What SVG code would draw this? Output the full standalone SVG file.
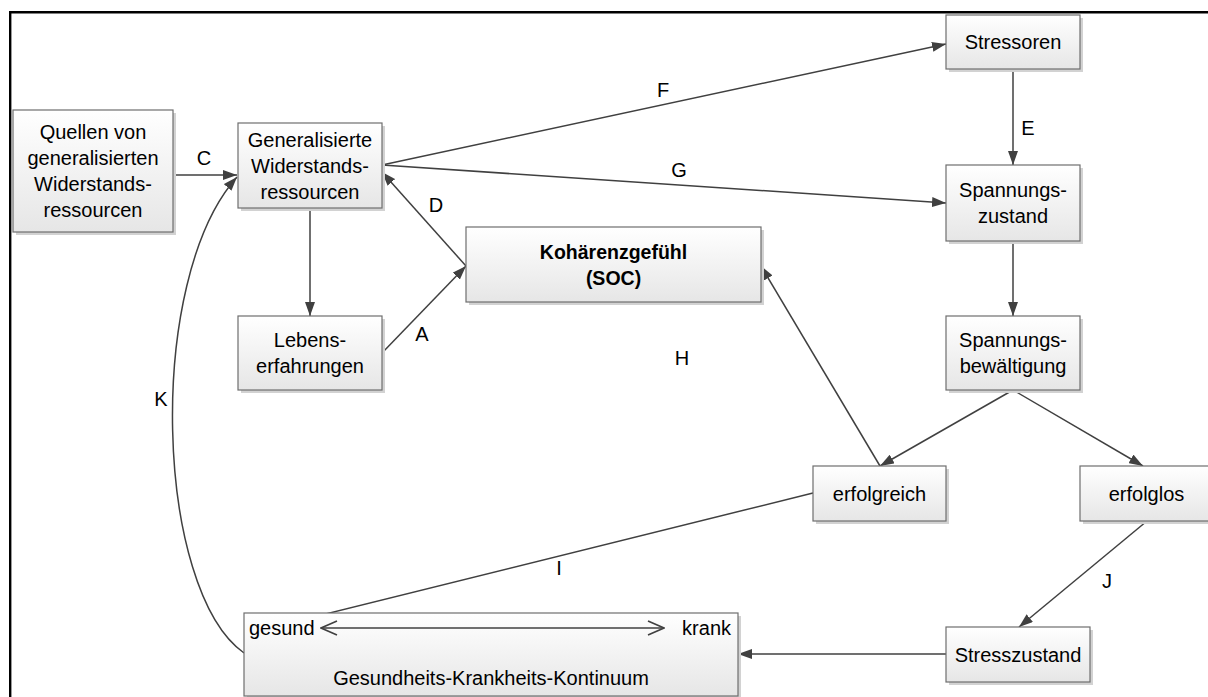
<svg xmlns="http://www.w3.org/2000/svg" width="1208" height="697" viewBox="0 0 1208 697">
  <defs>
    <linearGradient id="boxFill" x1="0" y1="0" x2="0" y2="1">
      <stop offset="0" stop-color="#ffffff"/>
      <stop offset="1" stop-color="#e6e6e6"/>
    </linearGradient>
    <marker id="arr" viewBox="0 0 14 10" refX="14" refY="5" markerWidth="14" markerHeight="10" orient="auto" markerUnits="userSpaceOnUse">
      <path d="M0,0 L14,5 L0,10 z" fill="#404040"/>
    </marker>
    <marker id="open" viewBox="0 0 18 16" refX="17" refY="8" markerWidth="18" markerHeight="16" orient="auto-start-reverse" markerUnits="userSpaceOnUse">
      <path d="M1,1 L17,8 L1,15" fill="none" stroke="#404040" stroke-width="1.6"/>
    </marker>
  </defs>
  <style>
    .shadow { fill: #d2d2d2; }
    .box { fill: url(#boxFill); stroke: #6e6e6e; stroke-width: 1.2; }
    .t { font-family: "Liberation Sans", Arial, sans-serif; font-size: 20px; fill: #000; text-anchor: middle; }
    .b { font-weight: bold; font-size: 19.5px; }
    .l { text-anchor: start; }
    .e { text-anchor: end; }
    .c { fill: none; stroke: #404040; stroke-width: 1.5; }
    .a { marker-end: url(#arr); }
  </style>

  <!-- page frame -->
  <path d="M10.2,697 V12.2 H1208" fill="none" stroke="#000" stroke-width="2.4"/>

  <!-- connectors -->
  <g id="connectors">
    <path class="c a" d="M173,175 H237"/>
    <path class="c a" d="M244,653 C155,590 145,280 237,177"/>
    <path class="c a" d="M310,208 V316"/>
    <path class="c a" d="M382,353 L466,266"/>
    <path class="c a" d="M466,266 L382,172"/>
    <path class="c a" d="M382,165 L946,44"/>
    <path class="c a" d="M382,165 L946,203"/>
    <path class="c a" d="M1013,69 V165"/>
    <path class="c a" d="M1013,241 V316"/>
    <path class="c a" d="M1013,390 L880,466"/>
    <path class="c a" d="M1013,390 L1143,466"/>
    <path class="c a" d="M880,466 L761,266"/>
    <path class="c a" d="M813,493 L249,633"/>
    <path class="c a" d="M1147,521 L1019,627"/>
    <path class="c a" d="M946,654 H738"/>
    <text class="t" x="204" y="165">C</text>
    <text class="t" x="161" y="406">K</text>
    <text class="t" x="436" y="212">D</text>
    <text class="t" x="422" y="341">A</text>
    <text class="t" x="663" y="97">F</text>
    <text class="t" x="679" y="177">G</text>
    <text class="t" x="1028" y="135">E</text>
    <text class="t" x="682" y="365">H</text>
    <text class="t" x="559" y="575">I</text>
    <text class="t" x="1107" y="588">J</text>
  </g>

  <g id="quellen">
    <rect class="shadow" x="16" y="113" width="160" height="122"/>
    <rect class="box" x="13" y="110" width="160" height="122"/>
    <text class="t" x="93" y="139">Quellen von</text>
    <text class="t" x="93" y="165">generalisierten</text>
    <text class="t" x="93" y="191">Widerstands-</text>
    <text class="t" x="93" y="217">ressourcen</text>
  </g>

  <g id="widerstandsressourcen">
    <rect class="shadow" x="241" y="126" width="144" height="85"/>
    <rect class="box" x="238" y="123" width="144" height="85"/>
    <text class="t" x="310" y="146.5">Generalisierte</text>
    <text class="t" x="310" y="172.5">Widerstands-</text>
    <text class="t" x="310" y="198.5">ressourcen</text>
  </g>

  <g id="stressoren">
    <rect class="shadow" x="949" y="18" width="134" height="54"/>
    <rect class="box" x="946" y="15" width="134" height="54"/>
    <text class="t" x="1013" y="49">Stressoren</text>
  </g>

  <g id="spannungszustand">
    <rect class="shadow" x="949" y="168" width="134" height="76"/>
    <rect class="box" x="946" y="165" width="134" height="76"/>
    <text class="t" x="1013" y="197">Spannungs-</text>
    <text class="t" x="1013" y="223">zustand</text>
  </g>

  <g id="spannungsbewaeltigung">
    <rect class="shadow" x="949" y="319" width="134" height="74"/>
    <rect class="box" x="946" y="316" width="134" height="74"/>
    <text class="t" x="1013" y="347">Spannungs-</text>
    <text class="t" x="1013" y="373">bewältigung</text>
  </g>

  <g id="kohaerenzgefuehl">
    <rect class="shadow" x="469" y="230" width="295" height="75"/>
    <rect class="box" x="466" y="227" width="295" height="75"/>
    <text class="t b" x="613.5" y="258.5">Kohärenzgefühl</text>
    <text class="t b" x="613.5" y="284.5">(SOC)</text>
  </g>

  <g id="lebenserfahrungen">
    <rect class="shadow" x="241" y="319" width="144" height="74"/>
    <rect class="box" x="238" y="316" width="144" height="74"/>
    <text class="t" x="310" y="347">Lebens-</text>
    <text class="t" x="310" y="373">erfahrungen</text>
  </g>

  <g id="erfolgreich">
    <rect class="shadow" x="816" y="469" width="133" height="55"/>
    <rect class="box" x="813" y="466" width="133" height="55"/>
    <text class="t" x="879.5" y="500.5">erfolgreich</text>
  </g>

  <g id="erfolglos">
    <rect class="shadow" x="1083" y="469" width="133" height="55"/>
    <rect class="box" x="1080" y="466" width="133" height="55"/>
    <text class="t" x="1146.5" y="500.5">erfolglos</text>
  </g>

  <g id="stresszustand">
    <rect class="shadow" x="949" y="630" width="144" height="55"/>
    <rect class="box" x="946" y="627" width="144" height="55"/>
    <text class="t" x="1018" y="661.5">Stresszustand</text>
  </g>

  <g id="kontinuum">
    <rect class="shadow" x="247" y="616" width="494" height="83"/>
    <rect class="box" x="244" y="613" width="494" height="83"/>
    <text class="t l" x="249" y="635">gesund</text>
    <text class="t e" x="731" y="635">krank</text>
    <path class="c" d="M321,628 H664" marker-start="url(#open)" marker-end="url(#open)"/>
    <text class="t" x="491" y="685">Gesundheits-Krankheits-Kontinuum</text>
  </g>
</svg>
